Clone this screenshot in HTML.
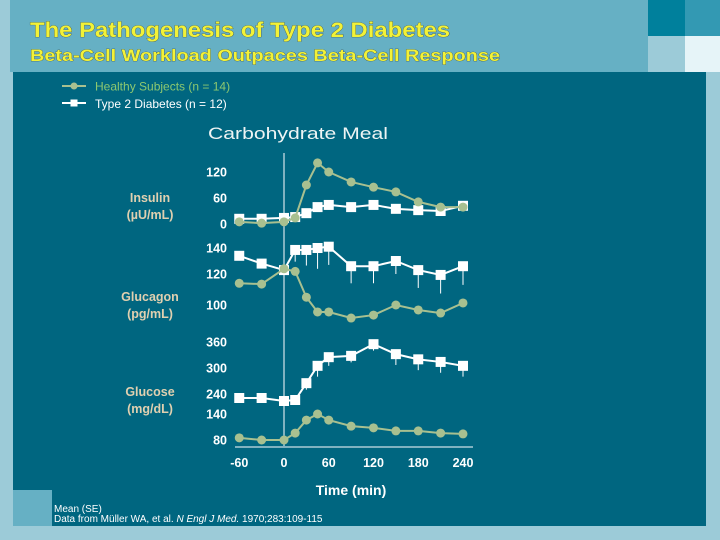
<!DOCTYPE html>
<html><head><meta charset="utf-8"><style>
body{margin:0;width:720px;height:540px;overflow:hidden;background:#9ccbd8;font-family:"Liberation Sans",sans-serif}
svg{display:block}
</style></head><body>
<svg width="720" height="540" viewBox="0 0 720 540">
<rect x="0" y="0" width="720" height="540" fill="#9ccbd8"/>
<rect x="10" y="0" width="638" height="72" fill="#66b0c4"/>
<rect x="648" y="0" width="37" height="36" fill="#00809c"/>
<rect x="685" y="0" width="35" height="36" fill="#3399b3"/>
<rect x="648" y="36" width="37" height="36" fill="#9ccbd8"/>
<rect x="685" y="36" width="35" height="36" fill="#e6f4f8"/>
<rect x="13" y="72" width="693" height="454" fill="#006680"/>
<rect x="13" y="490" width="39" height="36" fill="#66b0c4"/>
<g font-weight="bold" fill="#f2f238" style="paint-order:stroke" stroke="#3a4a40" stroke-width="0.6">
<text x="30" y="37" font-size="21" textLength="420" lengthAdjust="spacingAndGlyphs">The Pathogenesis of Type 2 Diabetes</text>
<text x="30" y="61" font-size="17" textLength="470" lengthAdjust="spacingAndGlyphs">Beta-Cell Workload Outpaces Beta-Cell Response</text>
</g>
<g>
<line x1="62" y1="86" x2="86" y2="86" stroke="#a8c090" stroke-width="2"/>
<circle cx="74" cy="86" r="3.5" fill="#a8c090"/>
<text x="95" y="90.5" font-size="12" fill="#8cc870">Healthy Subjects (n = 14)</text>
<line x1="62" y1="103" x2="86" y2="103" stroke="#fff" stroke-width="2"/>
<rect x="70.5" y="99.5" width="7" height="7" fill="#fff"/>
<text x="95" y="108" font-size="12" fill="#fff">Type 2 Diabetes (n = 12)</text>
</g>
<text x="298" y="139" font-size="17" fill="#eef4f4" text-anchor="middle" textLength="180" lengthAdjust="spacingAndGlyphs">Carbohydrate Meal</text>
<g font-size="12.5" font-weight="bold" fill="#e0d0b0" text-anchor="middle">
<text x="150" y="202">Insulin</text>
<text x="150" y="219">(µU/mL)</text>
<text x="150" y="301">Glucagon</text>
<text x="150" y="318">(pg/mL)</text>
<text x="150" y="396">Glucose</text>
<text x="150" y="413">(mg/dL)</text>
</g>
<g id="chart"></g>
<text x="351" y="495" font-size="14" font-weight="bold" fill="#fff" text-anchor="middle">Time (min)</text>
<g font-size="10" fill="#fff">
<text x="54" y="512">Mean (SE)</text>
<text x="54" y="522">Data from Müller WA, et al. <tspan font-style="italic">N Engl J Med.</tspan> 1970;283:109-115</text>
</g>
</svg>
<script>
const times=[-60,-30,0,15,30,45,60,90,120,150,180,210,240];
const xTicks=[-60,0,60,120,180,240];
const insulinTicks=[0,60,120];
const glucagonTicks=[100,120,140];
const glucoseTicks=[80,140,240,300,360];
const insulinHealthy=[5,2,5,14,90,141,120,97,85,74,51,39,39];
const insulinT2D=[12,12,14,16,25,39,44,39,44,35,32,30,42];
const glucagonHealthy=[114,113.5,124,122,105,95.5,95.5,91.6,93.5,100,96.8,94.8,101.3];
const glucagonT2D=[134,128,123,138.5,138.5,140,141,126,126,130,123,119.4,126];
const glucagonT2DErr=[0,0,0,9,12,16,14,12,12,10,12,12,13];
const glucoseHealthy=[85,80,80,96,126,140,126,112,108,101,101,96,94];
const glucoseT2D=[220,220,205,210,265,305,325,328,355,332,320,314,305];
const glucoseT2DErr=[0,10,0,20,15,25,20,15,15,25,25,25,25];
const insulinPx=[224,198,172];
const glucagonPx=[305,274,248];
const glucosePx=[440,414,394,368,342];
const NS='http://www.w3.org/2000/svg';
const g=document.getElementById('chart');
const xs=t=>284+t*(179/240);
function pw(ticks,px){return v=>{let i=0;while(i<ticks.length-2&&v>ticks[i+1])i++;const a=ticks[i],b=ticks[i+1];return px[i]+(v-a)/(b-a)*(px[i+1]-px[i]);};}
const yIns=pw(insulinTicks,insulinPx),yGcg=pw(glucagonTicks,glucagonPx),yGlu=pw(glucoseTicks,glucosePx);
function el(tag,attrs){const e=document.createElementNS(NS,tag);for(const k in attrs)e.setAttribute(k,attrs[k]);g.appendChild(e);return e;}
let l=el('line',{x1:xs(0),y1:153,x2:xs(0),y2:446,stroke:'#fff','stroke-width':1});


l=el('line',{x1:235,y1:447,x2:473,y2:447,stroke:'#fff','stroke-width':1});


xTicks.forEach(t=>{const e=el('text',{x:xs(t),y:467,'font-size':12.5,'font-weight':'bold',fill:'#fff','text-anchor':'middle'});e.textContent=t;

});
function ticks(arr,fn,name){arr.forEach(v=>{const e=el('text',{x:227,y:fn(v)+4.5,'font-size':12.5,'font-weight':'bold',fill:'#fff','text-anchor':'end'});e.textContent=v;

});}
ticks(insulinTicks,yIns,'insulin-tick-label');ticks(glucagonTicks,yGcg,'glucagon-tick-label');ticks(glucoseTicks,yGlu,'glucose-tick-label');
function series(vals,fn,healthy,name,err){
 const col=healthy?'#a8c090':'#ffffff';
 if(err){vals.forEach((v,i)=>{if(err[i]>0){const e=el('line',{x1:xs(times[i]),y1:fn(v),x2:xs(times[i]),y2:fn(v-err[i]),stroke:'#fff','stroke-width':1});
 
 }});}
 const p=el('polyline',{points:vals.map((v,i)=>xs(times[i])+','+fn(v)).join(' '),fill:'none',stroke:col,'stroke-width':2});
 
 
 vals.forEach((v,i)=>{let m;if(healthy)m=el('circle',{cx:xs(times[i]),cy:fn(v),r:4.5,fill:col});else m=el('rect',{x:xs(times[i])-5,y:fn(v)-5,width:10,height:10,fill:col});
 
 });
}
series(insulinT2D,yIns,false,'insulin-t2d');
series(insulinHealthy,yIns,true,'insulin-healthy');
series(glucagonT2D,yGcg,false,'glucagon-t2d',glucagonT2DErr);
series(glucagonHealthy,yGcg,true,'glucagon-healthy');
series(glucoseT2D,yGlu,false,'glucose-t2d',glucoseT2DErr);
series(glucoseHealthy,yGlu,true,'glucose-healthy');
</script>
</body></html>
